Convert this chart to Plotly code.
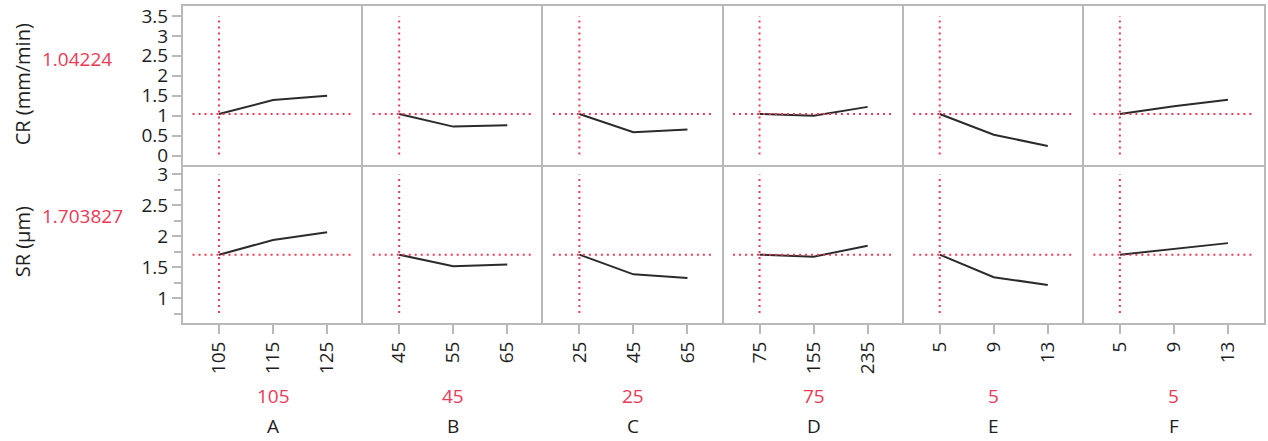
import plotly.graph_objects as go
from plotly.subplots import make_subplots

# Factor names, their three levels and the current setting
factors = ["A", "B", "C", "D", "E", "F"]
levels_A = [105, 115, 125]
levels_B = [45, 55, 65]
levels_C = [25, 45, 65]
levels_D = [75, 155, 235]
levels_E = [5, 9, 13]
levels_F = [5, 9, 13]
current_setting = [105, 45, 25, 75, 5, 5]

# Responses
responses = ["CR (mm/min)", "SR (µm)"]
current_prediction = [1.04224, 1.703827]
current_prediction_text = ["1.04224", "1.703827"]

# Predicted CR at each factor level (others held at current setting)
cr_A = [1.04224, 1.39, 1.50]
cr_B = [1.04224, 0.725, 0.76]
cr_C = [1.04224, 0.585, 0.65]
cr_D = [1.04224, 1.00, 1.22]
cr_E = [1.04224, 0.52, 0.24]
cr_F = [1.04224, 1.235, 1.40]

# Predicted SR at each factor level
sr_A = [1.703827, 1.94, 2.065]
sr_B = [1.703827, 1.515, 1.543]
sr_C = [1.703827, 1.386, 1.328]
sr_D = [1.703827, 1.672, 1.849]
sr_E = [1.703827, 1.34, 1.215]
sr_F = [1.703827, 1.80, 1.89]

cr_ticks = [0, 0.5, 1, 1.5, 2, 2.5, 3, 3.5]
sr_ticks = [1, 1.5, 2, 2.5, 3]

levels = [levels_A, levels_B, levels_C, levels_D, levels_E, levels_F]
profiles = [[cr_A, cr_B, cr_C, cr_D, cr_E, cr_F],
            [sr_A, sr_B, sr_C, sr_D, sr_E, sr_F]]

W, H = 1268, 441
ML, MR, MT, MB = 183, 2, 6, 118
PW, PH = W - ML - MR, H - MT - MB


def px_x(p):
    return (p - ML) / PW


def px_y(p):
    return (H - MB - p) / PH


RED = "#ea3a57"
BORDER = "#b9b9b9"
TXT = "#1e1e1e"
FONT = "Open Sans"

fig = make_subplots(rows=2, cols=6, horizontal_spacing=0, vertical_spacing=0)

y_ranges = [[-0.225, 3.75], [0.6, 3.16]]

for r in range(2):
    for c in range(6):
        lv = levels[c]
        fig.add_trace(go.Scatter(
            x=lv, y=profiles[r][c], mode="lines",
            line=dict(color="#2b2b2b", width=2), showlegend=False,
            hoverinfo="skip"), row=r + 1, col=c + 1)

        idx = r * 6 + c + 1
        xr = "x" if idx == 1 else f"x{idx}"
        yr = "y" if idx == 1 else f"y{idx}"
        # crosshair at the current setting
        fig.add_shape(type="line", xref=f"{xr} domain", yref=yr,
                      x0=0.053, x1=0.947,
                      y0=current_prediction[r], y1=current_prediction[r],
                      line=dict(color=RED, width=2, dash="2px,4px"))
        fig.add_shape(type="line", xref=xr, yref=f"{yr} domain",
                      x0=current_setting[c], x1=current_setting[c],
                      y0=0.063, y1=0.937,
                      line=dict(color=RED, width=2, dash="2px,4px"))

        step = lv[1] - lv[0]
        # each cell draws its bottom and left edge; outer cells close the frame
        xaxis = dict(range=[lv[0] - step * 2 / 3, lv[-1] + step * 2 / 3],
                     showgrid=False, zeroline=False, showline=True,
                     mirror=(r == 0), linecolor=BORDER, linewidth=2)
        if r == 1:
            xaxis.update(tickmode="array", tickvals=lv,
                         ticktext=[str(v) for v in lv], ticks="outside",
                         ticklen=9, tickwidth=2, tickcolor=BORDER,
                         tickangle=-90,
                         tickfont=dict(family=FONT, size=19, color=TXT))
        else:
            xaxis.update(showticklabels=False, ticks="")
        fig.update_xaxes(xaxis, row=r + 1, col=c + 1)

        yaxis = dict(range=y_ranges[r], showgrid=False, zeroline=False,
                     showline=True, mirror=(c == 5), linecolor=BORDER,
                     linewidth=2)
        if c == 0:
            tv = cr_ticks if r == 0 else sr_ticks
            yaxis.update(tickmode="array", tickvals=tv,
                         ticktext=[f"{v:g}" for v in tv], ticks="outside",
                         ticklen=9, tickwidth=2, tickcolor=BORDER,
                         tickfont=dict(family=FONT, size=19, color=TXT))
            if r == 1:
                yaxis.update(minor=dict(tick0=0, dtick=0.25, ticks="outside",
                                        ticklen=7, tickwidth=2,
                                        tickcolor=BORDER))
        else:
            yaxis.update(showticklabels=False, ticks="")
        fig.update_yaxes(yaxis, row=r + 1, col=c + 1)

annotations = []
title_y = [84, 242]
value_y = [59, 216]
for r in range(2):
    annotations.append(dict(
        text=responses[r], xref="paper", yref="paper",
        x=px_x(22), y=px_y(title_y[r]), textangle=-90, showarrow=False,
        xanchor="center", yanchor="middle",
        font=dict(family=FONT, size=20, color=TXT)))
    annotations.append(dict(
        text=current_prediction_text[r],
        xref="paper", yref="paper",
        x=px_x(40), y=px_y(value_y[r]), showarrow=False,
        xanchor="left", yanchor="middle",
        font=dict(family=FONT, size=19, color=RED)))

for c in range(6):
    xc = (c + 0.5) / 6
    annotations.append(dict(
        text=str(current_setting[c]), xref="paper", yref="paper",
        x=xc, y=px_y(396), showarrow=False, xanchor="center",
        yanchor="middle", font=dict(family=FONT, size=19, color=RED)))
    annotations.append(dict(
        text=factors[c], xref="paper", yref="paper",
        x=xc, y=px_y(426), showarrow=False, xanchor="center",
        yanchor="middle", font=dict(family=FONT, size=19, color=TXT)))

fig.update_layout(
    width=W, height=H,
    margin=dict(l=ML, r=MR, t=MT, b=MB),
    paper_bgcolor="white", plot_bgcolor="white",
    annotations=annotations,
    showlegend=False,
)

fig.write_html("out.html")
